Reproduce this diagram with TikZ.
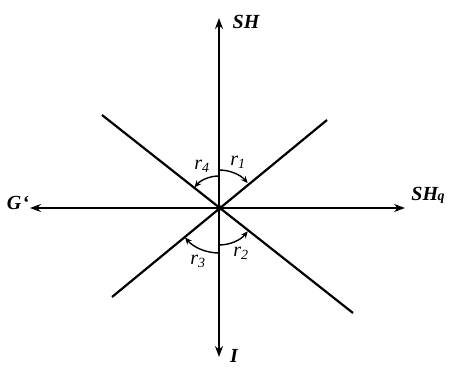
\documentclass[tikz,border=0pt]{standalone}
\usepackage{fontspec}
\setmainfont{Liberation Serif}
\usetikzlibrary{arrows.meta}
\begin{document}
\begin{tikzpicture}[x=1pt,y=1pt,
  axis/.style={line width=2.2pt,-{Stealth[length=11pt,width=8pt]}},
  diag/.style={line width=2.2pt},
  angarc/.style={line width=1.4pt,-{Stealth[length=7pt,width=6pt]}},
  lab/.style={font=\fontsize{20}{20}\selectfont\bfseries\itshape,inner sep=0pt},
  rlab/.style={font=\fontsize{20}{20}\selectfont\itshape,inner sep=0pt}]
\useasboundingbox (0,0) rectangle (449,367);
\coordinate (C) at (219,159);
\coordinate (T) at (219,349);
\coordinate (B) at (219,10);
\coordinate (L) at (30,159);
\coordinate (R) at (405,159);
\coordinate (UL) at (102,252);
\coordinate (LR) at (353,54);
\coordinate (LL) at (112,70);
\coordinate (UR) at (327,247);
\draw[axis] (C) -- (T);
\draw[axis] (C) -- (B);
\draw[axis] (C) -- (L);
\draw[axis] (C) -- (R);
\draw[diag] (UL) -- (LR);
\draw[diag] (LL) -- (UR);
\fill (C) circle (3pt);
\draw[angarc] ([shift={(90:38)}]C) arc[start angle=90,end angle=41,radius=38];
\draw[angarc] ([shift={(90:32)}]C) arc[start angle=90,end angle=140,radius=32];
\draw[angarc] ([shift={(-90:37)}]C) arc[start angle=-90,end angle=-39,radius=37];
\draw[angarc] ([shift={(-90:45)}]C) arc[start angle=-90,end angle=-139,radius=45];
\node[lab] (sh) at (246,345) {SH};
\node[lab] (g) at (18,164) {G\kern1pt\textquoteleft};
\node[lab] (shq) at (428,172) {SH\kern-0.5pt{\fontsize{14}{14}\selectfont q}};
\node[lab,anchor=south] (i) at (234,4) {I};
\node[rlab] (r1) at (238,205) {r\textsubscript{1}};
\node[rlab] (r4) at (202,201) {r\textsubscript{4}};
\node[rlab] (r2) at (241,114) {r\textsubscript{2}};
\node[rlab] (r3) at (198,106) {r\textsubscript{3}};
\end{tikzpicture}
\end{document}
